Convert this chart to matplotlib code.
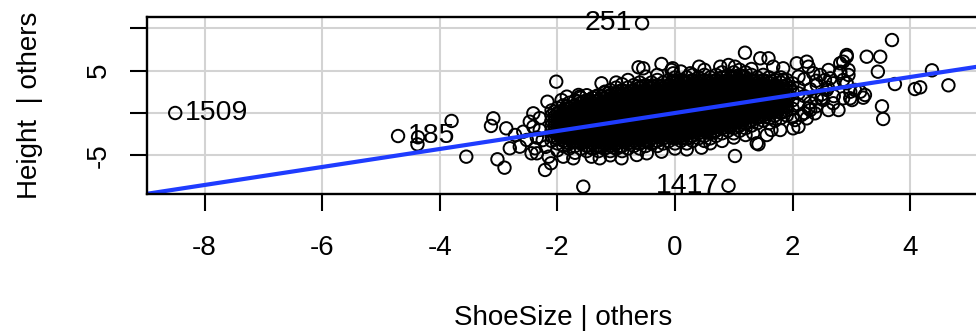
import matplotlib
matplotlib.use("Agg")
import matplotlib.pyplot as plt

plt.rcParams['font.family'] = ['Liberation Sans', 'DejaVu Sans']

# ---- data ----
# dense core of the cloud: one x per column, list of y values in that column
core_cols = [-2.1, -2.0, -1.9, -1.8, -1.7, -1.6, -1.5, -1.4, -1.3, -1.2, -1.1,
             -1.0, -0.9, -0.8, -0.7, -0.6, -0.5, -0.4, -0.3, -0.2, -0.1,
             0.0, 0.1, 0.2, 0.3, 0.4, 0.5, 0.6, 0.7, 0.8, 0.9,
             1.0, 1.1, 1.2, 1.3, 1.4, 1.5, 1.6, 1.7, 1.8, 1.9]
core_ys = [
    [-3.3, -2.7, -2.1, -1.5, -0.9, -0.3, 0.3],
    [-3.6, -3.0, -2.4, -1.8, -1.2, -0.6, 0.0, 0.6],
    [-3.9, -3.3, -2.7, -2.1, -1.5, -0.9, -0.3, 0.3, 0.9],
    [-4.2, -3.6, -3.0, -2.4, -1.8, -1.2, -0.6, 0.0, 0.6, 1.2],
    [-3.9, -3.3, -2.7, -2.1, -1.5, -0.9, -0.3, 0.3, 0.9, 1.5],
    [-4.2, -3.6, -3.0, -2.4, -1.8, -1.2, -0.6, 0.0, 0.6, 1.2, 1.8],
    [-4.5, -3.9, -3.3, -2.7, -2.1, -1.5, -0.9, -0.3, 0.3, 0.9, 1.5, 2.1],
    [-4.2, -3.6, -3.0, -2.4, -1.8, -1.2, -0.6, 0.0, 0.6, 1.2, 1.8],
    [-4.5, -3.9, -3.3, -2.7, -2.1, -1.5, -0.9, -0.3, 0.3, 0.9, 1.5, 2.1],
    [-4.2, -3.6, -3.0, -2.4, -1.8, -1.2, -0.6, 0.0, 0.6, 1.2, 1.8, 2.4],
    [-4.5, -3.9, -3.3, -2.7, -2.1, -1.5, -0.9, -0.3, 0.3, 0.9, 1.5, 2.1, 2.7],
    [-4.2, -3.6, -3.0, -2.4, -1.8, -1.2, -0.6, 0.0, 0.6, 1.2, 1.8, 2.4, 3.0],
    [-4.5, -3.9, -3.3, -2.7, -2.1, -1.5, -0.9, -0.3, 0.3, 0.9, 1.5, 2.1, 2.7],
    [-4.2, -3.6, -3.0, -2.4, -1.8, -1.2, -0.6, 0.0, 0.6, 1.2, 1.8, 2.4, 3.0],
    [-3.9, -3.3, -2.7, -2.1, -1.5, -0.9, -0.3, 0.3, 0.9, 1.5, 2.1, 2.7, 3.3],
    [-4.2, -3.6, -3.0, -2.4, -1.8, -1.2, -0.6, 0.0, 0.6, 1.2, 1.8, 2.4, 3.0, 3.6],
    [-3.9, -3.3, -2.7, -2.1, -1.5, -0.9, -0.3, 0.3, 0.9, 1.5, 2.1, 2.7, 3.3],
    [-3.6, -3.0, -2.4, -1.8, -1.2, -0.6, 0.0, 0.6, 1.2, 1.8, 2.4, 3.0, 3.6],
    [-3.9, -3.3, -2.7, -2.1, -1.5, -0.9, -0.3, 0.3, 0.9, 1.5, 2.1, 2.7, 3.3, 3.9],
    [-3.6, -3.0, -2.4, -1.8, -1.2, -0.6, 0.0, 0.6, 1.2, 1.8, 2.4, 3.0, 3.6],
    [-3.3, -2.7, -2.1, -1.5, -0.9, -0.3, 0.3, 0.9, 1.5, 2.1, 2.7, 3.3, 3.9],
    [-3.6, -3.0, -2.4, -1.8, -1.2, -0.6, 0.0, 0.6, 1.2, 1.8, 2.4, 3.0, 3.6, 4.2],
    [-3.3, -2.7, -2.1, -1.5, -0.9, -0.3, 0.3, 0.9, 1.5, 2.1, 2.7, 3.3, 3.9],
    [-3.6, -3.0, -2.4, -1.8, -1.2, -0.6, 0.0, 0.6, 1.2, 1.8, 2.4, 3.0, 3.6, 4.2],
    [-3.3, -2.7, -2.1, -1.5, -0.9, -0.3, 0.3, 0.9, 1.5, 2.1, 2.7, 3.3, 3.9, 4.5],
    [-3.0, -2.4, -1.8, -1.2, -0.6, 0.0, 0.6, 1.2, 1.8, 2.4, 3.0, 3.6, 4.2],
    [-3.3, -2.7, -2.1, -1.5, -0.9, -0.3, 0.3, 0.9, 1.5, 2.1, 2.7, 3.3, 3.9, 4.5],
    [-3.0, -2.4, -1.8, -1.2, -0.6, 0.0, 0.6, 1.2, 1.8, 2.4, 3.0, 3.6, 4.2],
    [-2.7, -2.1, -1.5, -0.9, -0.3, 0.3, 0.9, 1.5, 2.1, 2.7, 3.3, 3.9, 4.5],
    [-2.4, -1.8, -1.2, -0.6, 0.0, 0.6, 1.2, 1.8, 2.4, 3.0, 3.6, 4.2, 4.8],
    [-2.1, -1.5, -0.9, -0.3, 0.3, 0.9, 1.5, 2.1, 2.7, 3.3, 3.9, 4.5],
    [-2.4, -1.8, -1.2, -0.6, 0.0, 0.6, 1.2, 1.8, 2.4, 3.0, 3.6, 4.2, 4.8],
    [-2.1, -1.5, -0.9, -0.3, 0.3, 0.9, 1.5, 2.1, 2.7, 3.3, 3.9, 4.5],
    [-1.8, -1.2, -0.6, 0.0, 0.6, 1.2, 1.8, 2.4, 3.0, 3.6, 4.2, 4.8],
    [-1.5, -0.9, -0.3, 0.3, 0.9, 1.5, 2.1, 2.7, 3.3, 3.9, 4.5],
    [-1.2, -0.6, 0.0, 0.6, 1.2, 1.8, 2.4, 3.0, 3.6, 4.2],
    [-0.9, -0.3, 0.3, 0.9, 1.5, 2.1, 2.7, 3.3, 3.9, 4.5],
    [-1.2, -0.6, 0.0, 0.6, 1.2, 1.8, 2.4, 3.0, 3.6, 4.2],
    [-0.9, -0.3, 0.3, 0.9, 1.5, 2.1, 2.7, 3.3, 3.9],
    [-0.6, 0.0, 0.6, 1.2, 1.8, 2.4, 3.0, 3.6, 4.2],
    [-0.3, 0.3, 0.9, 1.5, 2.1, 2.7, 3.3, 3.9],
]

# inner core points lying between the columns above
inner_cols = [-2.05, -1.95, -1.85, -1.75, -1.65, -1.55, -1.45, -1.35, -1.25, -1.15,
              -1.05, -0.95, -0.85, -0.75, -0.65, -0.55, -0.45, -0.35, -0.25, -0.15,
              -0.05, 0.05, 0.15, 0.25, 0.35, 0.45, 0.55, 0.65, 0.75, 0.85,
              0.95, 1.05, 1.15, 1.25, 1.35, 1.45, 1.55, 1.65, 1.75, 1.85]
inner_ys = [
    [-2.85, -2.25, -1.65, -1.05, -0.45, 0.15],
    [-2.85, -2.25, -1.65, -1.05, -0.45, 0.15],
    [-3.45, -2.85, -2.25, -1.65, -1.05, -0.45, 0.15, 0.75],
    [-3.45, -2.85, -2.25, -1.65, -1.05, -0.45, 0.15, 0.75],
    [-3.45, -2.85, -2.25, -1.65, -1.05, -0.45, 0.15, 0.75, 1.35],
    [-3.45, -2.85, -2.25, -1.65, -1.05, -0.45, 0.15, 0.75, 1.35],
    [-4.05, -3.45, -2.85, -2.25, -1.65, -1.05, -0.45, 0.15, 0.75, 1.35],
    [-4.05, -3.45, -2.85, -2.25, -1.65, -1.05, -0.45, 0.15, 0.75, 1.35, 1.95],
    [-4.05, -3.45, -2.85, -2.25, -1.65, -1.05, -0.45, 0.15, 0.75, 1.35, 1.95],
    [-4.05, -3.45, -2.85, -2.25, -1.65, -1.05, -0.45, 0.15, 0.75, 1.35, 1.95],
    [-4.05, -3.45, -2.85, -2.25, -1.65, -1.05, -0.45, 0.15, 0.75, 1.35, 1.95],
    [-4.05, -3.45, -2.85, -2.25, -1.65, -1.05, -0.45, 0.15, 0.75, 1.35, 1.95, 2.55],
    [-3.45, -2.85, -2.25, -1.65, -1.05, -0.45, 0.15, 0.75, 1.35, 1.95, 2.55],
    [-3.45, -2.85, -2.25, -1.65, -1.05, -0.45, 0.15, 0.75, 1.35, 1.95, 2.55],
    [-3.45, -2.85, -2.25, -1.65, -1.05, -0.45, 0.15, 0.75, 1.35, 1.95, 2.55, 3.15],
    [-3.45, -2.85, -2.25, -1.65, -1.05, -0.45, 0.15, 0.75, 1.35, 1.95, 2.55, 3.15],
    [-3.45, -2.85, -2.25, -1.65, -1.05, -0.45, 0.15, 0.75, 1.35, 1.95, 2.55, 3.15],
    [-3.45, -2.85, -2.25, -1.65, -1.05, -0.45, 0.15, 0.75, 1.35, 1.95, 2.55, 3.15],
    [-2.85, -2.25, -1.65, -1.05, -0.45, 0.15, 0.75, 1.35, 1.95, 2.55, 3.15],
    [-2.85, -2.25, -1.65, -1.05, -0.45, 0.15, 0.75, 1.35, 1.95, 2.55, 3.15],
    [-2.85, -2.25, -1.65, -1.05, -0.45, 0.15, 0.75, 1.35, 1.95, 2.55, 3.15, 3.75],
    [-2.85, -2.25, -1.65, -1.05, -0.45, 0.15, 0.75, 1.35, 1.95, 2.55, 3.15, 3.75],
    [-2.85, -2.25, -1.65, -1.05, -0.45, 0.15, 0.75, 1.35, 1.95, 2.55, 3.15, 3.75],
    [-2.85, -2.25, -1.65, -1.05, -0.45, 0.15, 0.75, 1.35, 1.95, 2.55, 3.15, 3.75],
    [-2.25, -1.65, -1.05, -0.45, 0.15, 0.75, 1.35, 1.95, 2.55, 3.15, 3.75],
    [-2.25, -1.65, -1.05, -0.45, 0.15, 0.75, 1.35, 1.95, 2.55, 3.15, 3.75],
    [-2.25, -1.65, -1.05, -0.45, 0.15, 0.75, 1.35, 1.95, 2.55, 3.15, 3.75],
    [-2.25, -1.65, -1.05, -0.45, 0.15, 0.75, 1.35, 1.95, 2.55, 3.15, 3.75],
    [-1.65, -1.05, -0.45, 0.15, 0.75, 1.35, 1.95, 2.55, 3.15, 3.75],
    [-1.65, -1.05, -0.45, 0.15, 0.75, 1.35, 1.95, 2.55, 3.15, 3.75],
    [-1.65, -1.05, -0.45, 0.15, 0.75, 1.35, 1.95, 2.55, 3.15, 3.75, 4.35],
    [-1.05, -0.45, 0.15, 0.75, 1.35, 1.95, 2.55, 3.15, 3.75, 4.35],
    [-1.05, -0.45, 0.15, 0.75, 1.35, 1.95, 2.55, 3.15, 3.75, 4.35],
    [-1.05, -0.45, 0.15, 0.75, 1.35, 1.95, 2.55, 3.15, 3.75],
    [-0.45, 0.15, 0.75, 1.35, 1.95, 2.55, 3.15, 3.75],
    [-0.45, 0.15, 0.75, 1.35, 1.95, 2.55, 3.15, 3.75],
    [-0.45, 0.15, 0.75, 1.35, 1.95, 2.55, 3.15, 3.75],
    [0.15, 0.75, 1.35, 1.95, 2.55, 3.15, 3.75],
    [0.15, 0.75, 1.35, 1.95, 2.55, 3.15],
    [0.15, 0.75, 1.35, 1.95, 2.55, 3.15],
]

# scattered points around the core
edge_x = [-4.37, -4.38, -3.80, -3.55, -3.09, -3.13, -2.87, -3.02, -2.90, -2.72,
          -2.81, -2.64, -2.58, -2.44, -2.38, -2.41, -2.47, -2.17, -2.02, -2.21,
          -2.15, -2.11, -2.41, -2.52, -2.35, -2.30, -2.25, -2.30, -2.20, -2.35,
          -1.84, -1.62, -1.25, -1.19, -1.45, -1.73, -1.42, -1.28, -0.91, -0.65,
          -1.90, -1.56, -1.64, -1.93, -2.00, -1.70, -1.10,
          -0.62, -0.23, -0.06, -0.04, -0.03, 0.41, 0.26, -0.54, -1.00, -0.80,
          -0.50, -0.30, 0.10, 0.50, -0.90,
          -0.48, -0.23, 0.20, 0.45, 0.60, 1.02, 0.00, 0.80,
          1.19, 0.77, 0.91, 1.02, 1.45, 1.59, 1.67, 1.84, 2.07, 2.24,
          2.27, 2.47, 2.61, 2.64, 2.81, 2.81, 2.92, 2.95, 2.86, 2.86,
          2.92, 1.30, 1.10,
          2.98, 3.06, 2.61, 2.78, 2.24, 2.30, 2.10, 2.01, 1.79, 1.64,
          2.04, 2.15, 2.41, 2.49, 1.39, 1.42, 1.33, 1.56, 1.84, 1.96,
          2.10, 2.41, 2.58, 2.69, 2.52, 2.27, 2.38, 2.69, 2.86, 3.69,
          3.26, 3.49, 3.45, 3.74, 4.37, 4.08, 4.17, 4.65, 3.52, 3.54,
          3.20, 3.01, 3.15, 3.23, 2.98, 2.92, 2.95, 2.81, 1.20, 1.00,
          2.00, 2.00, 2.00, 2.00, 2.10, 2.10, 2.20, 2.20, 2.30, 2.30,
          2.40, 2.40, 2.50, 2.60, 2.70, 2.20, 2.00, 2.10, 2.35, 2.55]
edge_y = [-2.87, -3.70, -0.94, -5.16, -0.63, -1.53, -1.81, -5.47, -6.46, -2.60,
          -4.17, -3.98, -2.21, -4.76, -4.17, -0.04, -1.03, 1.33, 3.70, -6.73,
          -5.16, -5.94, -1.62, -3.19, -4.76, -2.00, -3.20, -0.60, -4.00, -2.90,
          1.93, 1.93, 3.51, 2.52, 1.53, -5.35, -5.16, -5.35, -5.35, -4.96,
          -5.16, -8.70, 2.13, 1.53, -4.40, -4.70, -5.00,
          5.40, 5.79, 5.08, 5.28, 4.69, 5.47, 4.69, 5.28, 3.60, 3.90,
          4.30, 4.50, 4.90, 5.10, 3.40,
          -4.76, -4.57, -4.30, -4.10, -3.58, -5.08, -4.20, -3.30,
          7.12, 5.47, 5.67, 5.47, 6.46, 6.46, 5.47, 5.28, 5.87, 6.06,
          5.47, 4.49, 5.08, 4.10, 4.69, 5.87, 6.65, 5.08, 3.90, 6.06,
          6.85, 5.20, 5.10,
          1.74, 2.72, 0.35, 0.35, -0.63, 0.35, -1.62, -1.81, -2.01, -2.01,
          -0.83, -0.24, 1.74, 1.74, -3.58, -3.70, -2.40, -2.60, 3.90, 2.92,
          2.33, 3.31, 2.72, 3.51, 1.53, 0.55, -0.04, 1.15, 1.74, 8.62,
          6.65, 6.65, 4.88, 3.42, 5.04, 2.83, 3.03, 3.27, 0.79, -0.71,
          1.81, 1.53, 2.51, 2.13, 2.51, 3.51, 4.49, 4.88, -2.60, -2.90,
          0.50, 1.50, 2.50, 3.50, 1.00, 3.00, 2.00, 4.00, 1.20, 2.80,
          0.80, 3.80, 2.20, 3.00, 2.00, 0.00, -0.50, 4.30, 4.70, 3.90]

# labelled observations
label_text = ["1509", "251", "1417", "185"]
label_x = [-8.50, -0.56, 0.91, -4.71]
label_y = [0.00, 10.60, -8.60, -2.72]
label_side = ["right", "left", "left", "right"]

# least-squares line
fit_intercept = 0.0
fit_slope = 1.063

x_ticks = [-8, -6, -4, -2, 0, 2, 4]
y_ticks = [-5, 0, 5, 10]
y_ticklabels = ["-5", "", "5", ""]
x_title = "ShoeSize | others"
y_title = "Height  | others"

# ---- figure ----
W, H = 976, 336
fig = plt.figure(figsize=(W / 100, H / 100), dpi=100)
left_px, right_px, top_px, bot_px = 147, 979, 17, 194
ax = fig.add_axes([left_px / W, 1 - bot_px / H, (right_px - left_px) / W, (bot_px - top_px) / H])

ax.set_xlim(-8.98, 5.17)
ax.set_ylim(-9.57, 11.34)

ax.set_xticks(x_ticks)
ax.set_xticklabels([str(t) for t in x_ticks])
ax.set_yticks(y_ticks)
ax.set_yticklabels(y_ticklabels)
ax.grid(True, color='#d3d3d3', linewidth=1.5, zorder=0)
ax.set_axisbelow(True)

all_x = []
all_y = []
for cols, yss in ((core_cols, core_ys), (inner_cols, inner_ys)):
    for cx, ys in zip(cols, yss):
        for yv in ys:
            all_x.append(cx)
            all_y.append(yv)
all_x += edge_x + label_x
all_y += edge_y + label_y

ax.scatter(all_x, all_y, s=80, facecolors='none', edgecolors='black',
           linewidths=1.4, zorder=2, clip_on=False)

ax.axline((0, fit_intercept), slope=fit_slope, color='#1f3cff', linewidth=3.0, zorder=3)

for t, lx, ly, side in zip(label_text, label_x, label_y, label_side):
    off = 7 if side == "right" else -7
    ax.annotate(t, (lx, ly), xytext=(off, 0), textcoords='offset points',
                ha='left' if side == "right" else 'right', va='center',
                fontsize=20.5, color='black', zorder=4)

for s in ['left', 'top', 'bottom', 'right']:
    ax.spines[s].set_linewidth(1.7)
    ax.spines[s].set_zorder(5)

ax.tick_params(axis='both', direction='out', length=12.5, width=1.5, labelsize=20)
ax.tick_params(axis='x', pad=17)
ax.tick_params(axis='y', pad=13)
for lab in ax.get_yticklabels():
    lab.set_rotation(90)
    lab.set_va('center')
    lab.set_ha('right')

ax.set_xlabel(x_title, fontsize=20)
ax.set_ylabel(y_title, fontsize=20)
ax.xaxis.set_label_coords((563 - left_px) / (right_px - left_px), -(318 - bot_px) / (bot_px - top_px))
ax.xaxis.label.set_va('center')
ax.yaxis.set_label_coords(-(left_px - 30) / (right_px - left_px), 0.5)
ax.yaxis.label.set_va('center')

fig.savefig("out.png", dpi=100)
